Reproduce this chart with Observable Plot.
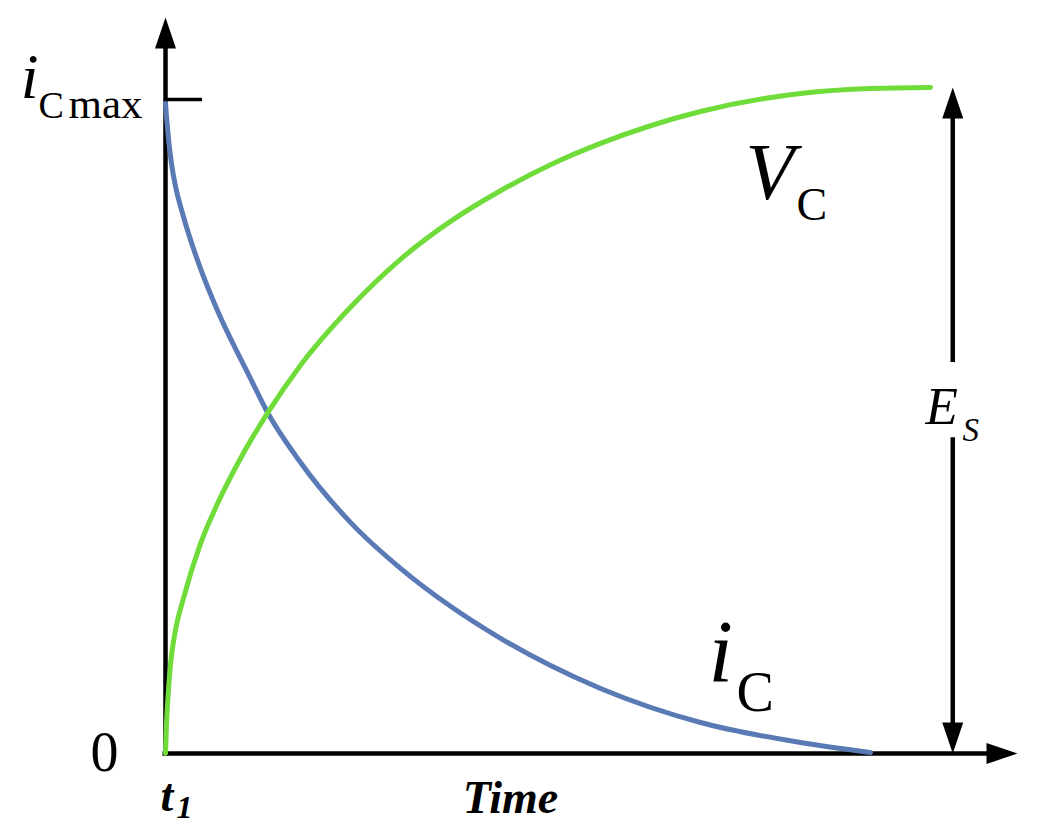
<!DOCTYPE html>
<html>
<head>
<meta charset="utf-8">
<script src="https://cdn.jsdelivr.net/npm/d3@7"></script>
<script src="https://cdn.jsdelivr.net/npm/@observablehq/plot@0.6"></script>
<style>
  html, body { margin: 0; padding: 0; background: #ffffff; }
  #chart svg { display: block; }
</style>
</head>
<body>
<div id="chart"></div>
<script>
// Capacitor charging curves (time in arbitrary units, values normalised to E_S = 1)
const vcTime  = [0, 0.012, 0.035, 0.059, 0.117, 0.211, 0.411, 0.610, 0.880, 1.197, 1.585, 2.171, 2.758, 3.345, 3.932, 4.519, 5.106, 6.279, 7.453, 8.275, 8.979];
const vcValue = [0, 0.045, 0.095, 0.134, 0.185, 0.233, 0.315, 0.375, 0.443, 0.511, 0.583, 0.670, 0.742, 0.799, 0.845, 0.884, 0.916, 0.964, 0.991, 0.9985, 1.0];

const icTime  = [0, 0.012, 0.035, 0.070, 0.117, 0.211, 0.411, 0.610, 0.998, 1.185, 1.585, 2.171, 2.758, 3.345, 3.932, 4.519, 5.106, 6.279, 7.453, 8.275];
const icValue = [0.976, 0.956, 0.923, 0.886, 0.852, 0.806, 0.728, 0.665, 0.563, 0.515, 0.437, 0.347, 0.278, 0.221, 0.173, 0.132, 0.0976, 0.0465, 0.0165, 0.0015];

const icMax = 0.982;      // level of the i_C max tick
const esLevel = 1.0;      // source voltage level
const esTime = 9.24;      // where the E_S dimension arrow stands
const xAxisEnd = 10;      // arrow tip of the time axis
const yAxisEnd = 1.105;   // arrow tip of the vertical axis

const vc = vcTime.map((t, i) => ({t, v: vcValue[i]}));
const ic = icTime.map((t, i) => ({t, v: icValue[i]}));

const W = 1046, H = 825;
const mL = 165, mR = 29, mT = 87, mB = 72;
const pxX = (W - mL - mR) / xAxisEnd;   // px per time unit
const pxY = (H - mT - mB) / 1;          // px per value unit

// filled, elongated arrow head with its tip at the origin, pointing up
const arrowHead = {
  draw(ctx) {
    ctx.moveTo(0, 0);
    ctx.lineTo(-10.5, 31);
    ctx.lineTo(10.5, 31);
    ctx.closePath();
  }
};

const serif = "'Liberation Serif', 'Times New Roman', serif";
const head = 24; // px the shaft stops short of the tip

const txt = (text, t, v, opts) => Plot.text([{t, v}], {
  x: "t", y: "v", text: () => text, lineAnchor: "bottom",
  fontFamily: serif, fill: "black", ...opts
});

const chart = Plot.plot({
  width: W, height: H,
  marginLeft: mL, marginRight: mR, marginTop: mT, marginBottom: mB,
  x: {domain: [0, xAxisEnd], axis: null},
  y: {domain: [0, 1], axis: null},
  style: {background: "white", overflow: "visible"},
  marks: [
    // axes
    Plot.ruleX([0], {y1: -3 / pxY, y2: yAxisEnd - head / pxY, stroke: "black", strokeWidth: 4.5}),
    Plot.ruleY([0], {x1: -2.5 / pxX, x2: xAxisEnd - head / pxX, stroke: "black", strokeWidth: 4.5}),
    Plot.dot([{t: 0, v: yAxisEnd}], {x: "t", y: "v", symbol: arrowHead, fill: "black", stroke: null, rotate: 0}),
    Plot.dot([{t: xAxisEnd, v: 0}], {x: "t", y: "v", symbol: arrowHead, fill: "black", stroke: null, rotate: 90}),
    // i_C max tick
    Plot.ruleY([icMax], {x1: 0, x2: 37 / pxX, stroke: "black", strokeWidth: 3.5}),
    // E_S dimension arrow
    Plot.ruleX([esTime], {y1: esLevel - head / pxY, y2: 0.587, stroke: "black", strokeWidth: 4.5}),
    Plot.ruleX([esTime], {y1: 0.474, y2: head / pxY, stroke: "black", strokeWidth: 4.5}),
    Plot.dot([{t: esTime, v: esLevel}], {x: "t", y: "v", symbol: arrowHead, fill: "black", stroke: null, rotate: 0}),
    Plot.dot([{t: esTime, v: 0}], {x: "t", y: "v", symbol: arrowHead, fill: "black", stroke: null, rotate: 180}),
    // curves
    Plot.line(ic, {x: "t", y: "v", curve: "monotone-x", stroke: "#5a7ab6", strokeWidth: 5}),
    Plot.line(vc, {x: "t", y: "v", curve: "monotone-x", stroke: "#6fdc3a", strokeWidth: 5}),
    // labels
    txt("i", (38 - mL) / pxX, (753 - 97) / pxY, {textAnchor: "end", fontSize: 64, fontStyle: "italic"}),
    txt("C", (38 - mL) / pxX, (753 - 117) / pxY, {textAnchor: "start", fontSize: 38}),
    txt("max", (68 - mL) / pxX, (753 - 117) / pxY, {textAnchor: "start", fontSize: 43}),
    txt("0", (104 - mL) / pxX, (753 - 770) / pxY, {textAnchor: "middle", fontSize: 56}),
    txt("t", (160 - mL) / pxX, (753 - 810) / pxY, {textAnchor: "start", fontSize: 46, fontStyle: "italic", fontWeight: "bold"}),
    txt("1", (176 - mL) / pxX, (753 - 817) / pxY, {textAnchor: "start", fontSize: 32, fontStyle: "italic", fontWeight: "bold"}),
    txt("Time", (510 - mL) / pxX, (753 - 812) / pxY, {textAnchor: "middle", fontSize: 46, fontStyle: "italic", fontWeight: "bold"}),
    txt("V", (745 - mL) / pxX, (753 - 198) / pxY, {textAnchor: "start", fontSize: 80, fontStyle: "italic"}),
    txt("C", (796 - mL) / pxX, (753 - 219) / pxY, {textAnchor: "start", fontSize: 46}),
    txt("i", (708 - mL) / pxX, (753 - 680) / pxY, {textAnchor: "start", fontSize: 88, fontStyle: "italic"}),
    txt("C", (736 - mL) / pxX, (753 - 710) / pxY, {textAnchor: "start", fontSize: 56}),
    txt("E", (925 - mL) / pxX, (753 - 423) / pxY, {textAnchor: "start", fontSize: 53, fontStyle: "italic"}),
    txt("S", (962 - mL) / pxX, (753 - 440) / pxY, {textAnchor: "start", fontSize: 33, fontStyle: "italic"})
  ]
});

document.getElementById("chart").appendChild(chart);
</script>
</body>
</html>
